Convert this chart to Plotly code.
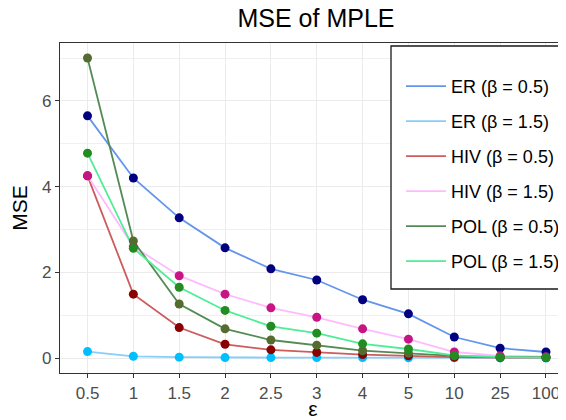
import plotly.graph_objects as go

eps_labels = ["0.5", "1", "1.5", "2", "2.5", "3", "4", "5", "10", "25", "100"]

er_05 = [5.65, 4.20, 3.27, 2.57, 2.08, 1.82, 1.36, 1.03, 0.49, 0.23, 0.14]
er_15 = [0.15, 0.04, 0.02, 0.01, 0.01, 0.01, 0.01, 0.005, 0.003, 0.002, 0.001]
hiv_05 = [4.25, 1.49, 0.71, 0.32, 0.19, 0.13, 0.08, 0.05, 0.02, 0.01, 0.01]
hiv_15 = [4.25, 2.60, 1.92, 1.49, 1.17, 0.95, 0.68, 0.44, 0.14, 0.05, 0.03]
pol_05 = [7.00, 2.73, 1.26, 0.68, 0.42, 0.30, 0.17, 0.11, 0.05, 0.02, 0.02]
pol_15 = [4.78, 2.56, 1.65, 1.11, 0.74, 0.58, 0.33, 0.21, 0.06, 0.02, 0.01]

series_names = ["ER (β = 0.5)", "ER (β = 1.5)", "HIV (β = 0.5)",
                "HIV (β = 1.5)", "POL (β = 0.5)", "POL (β = 1.5)"]
series_values = [er_05, er_15, hiv_05, hiv_15, pol_05, pol_15]
line_colors = ["#6495ED", "#87CEFA", "#CD5C5C", "#FFBBFF", "#548B54", "#4EEE94"]
point_colors = ["#000080", "#00BFFF", "#8B0000", "#C71585", "#556B2F", "#228B22"]

FONT = "Liberation Sans, Arial, sans-serif"
OFF = 8  # default page body margin
W, H = 566 - OFF, 420 - OFF
L, R, T, B = 60 - OFF, 0, 43 - OFF, 47
pw = W - L - R
ph = H - T - B

fig = go.Figure()
for i, (name, vals) in enumerate(zip(series_names, series_values)):
    fig.add_trace(go.Scatter(
        x=eps_labels, y=vals, mode="lines", name=name,
        legendgroup=f"g{i}",
        line=dict(color=line_colors[i], width=1.8),
    ))
for i, (name, vals) in enumerate(zip(series_names, series_values)):
    fig.add_trace(go.Scatter(
        x=eps_labels, y=vals, mode="markers", name=name,
        legendgroup=f"g{i}", showlegend=False,
        marker=dict(color=point_colors[i], size=9, line=dict(width=0)),
    ))

# helpers: page pixel -> paper fraction
def px_x(p):
    return (p - OFF - L) / pw

def px_y(p):
    return (H - B - (p - OFF)) / ph

fig.add_shape(type="rect", xref="paper", yref="paper",
              x0=px_x(391), x1=px_x(620), y0=px_y(289), y1=px_y(46),
              line=dict(color="#1a1a1a", width=1.3), fillcolor="white",
              layer="above")

fig.update_layout(
    width=W, height=H,
    margin=dict(l=L, r=R, t=T, b=B, autoexpand=False),
    paper_bgcolor="white", plot_bgcolor="white",
    font=dict(family=FONT, color="#000000"),
    title=dict(text="MSE of MPLE", x=px_x(316), xref="paper", xanchor="center",
               y=1 - (18 - OFF) / H, yref="container", yanchor="middle",
               font=dict(size=25, color="#000000", family=FONT)),
    showlegend=True,
    legend=dict(x=px_x(401), y=px_y(68), xanchor="left", yanchor="top",
                xref="paper", yref="paper",
                bgcolor="rgba(0,0,0,0)", borderwidth=0,
                font=dict(size=18, color="#000000", family=FONT),
                tracegroupgap=8.6, itemwidth=40),
    xaxis=dict(type="category", categoryorder="array", categoryarray=eps_labels,
               range=[-0.6, 10.6 - (573.5 - 566) / 45.9],
               showgrid=True, gridcolor="#EBEBEB", gridwidth=1.2,
               showline=True, linecolor="#333333", linewidth=1.3, mirror=True,
               ticks="outside", ticklen=4, tickcolor="#333333", tickwidth=1,
               tickfont=dict(size=17, color="#4D4D4D", family=FONT),
               title=dict(text="ε", font=dict(size=21, color="#000000", family=FONT),
                          standoff=5),
               zeroline=False),
    yaxis=dict(range=[-0.35, 7.35], tickvals=[0, 2, 4, 6],
               showgrid=True, gridcolor="#EBEBEB", gridwidth=1.2,
               minor=dict(dtick=1, tick0=0, showgrid=True, gridcolor="#F0F0F0",
                          gridwidth=0.7),
               showline=True, linecolor="#333333", linewidth=1.3, mirror=False,
               ticks="outside", ticklen=4, tickcolor="#333333", tickwidth=1,
               tickfont=dict(size=17, color="#4D4D4D", family=FONT),
               title=dict(text="MSE", font=dict(size=21, color="#000000", family=FONT),
                          standoff=10),
               zeroline=False),
)

fig.write_html("out.html")
